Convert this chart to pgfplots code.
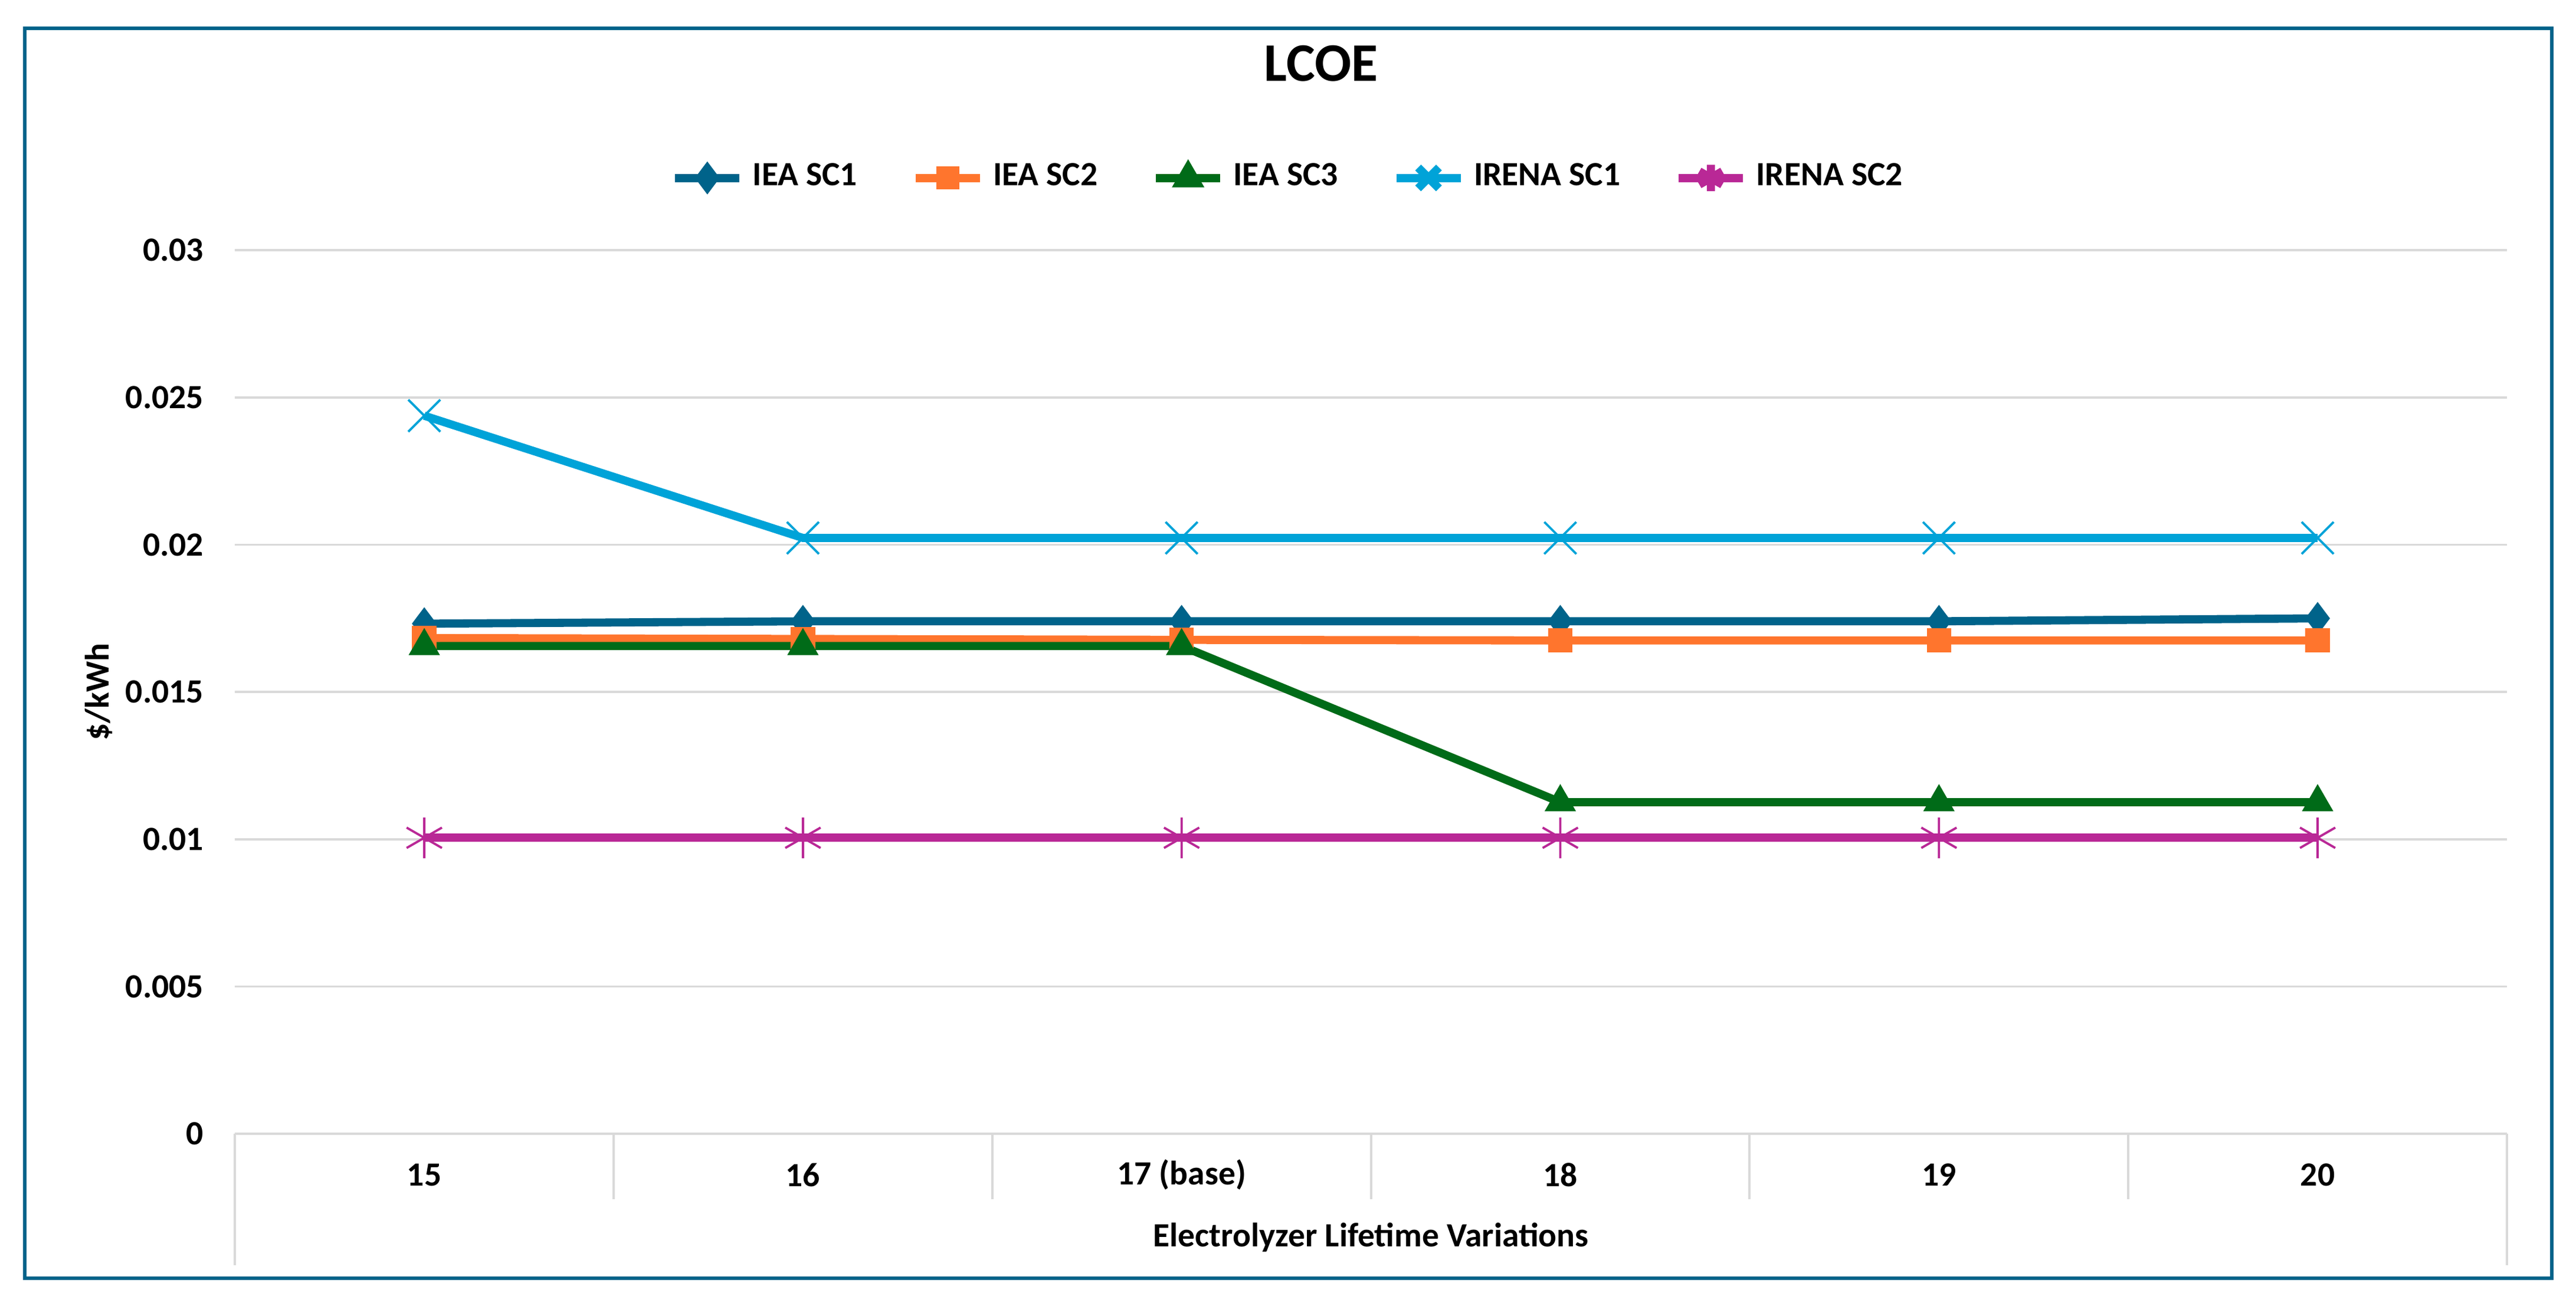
\documentclass[border=0pt]{standalone}
\usepackage{fontspec}
\setmainfont{Carlito}
\usepackage{pgfplots}
\pgfplotsset{compat=1.18}

\definecolor{ieaone}{HTML}{00638A}
\definecolor{ieatwo}{HTML}{FF752D}
\definecolor{ieathree}{HTML}{006B18}
\definecolor{irenaone}{HTML}{00A3D8}
\definecolor{irenatwo}{HTML}{B92896}
\definecolor{gridgray}{HTML}{D9D9D9}

\begin{document}
\begin{tikzpicture}
\path[use as bounding box] (0,0) rectangle (20cm,10.119cm);
\draw[color=ieaone, line width=0.8pt] (0.191,0.191) rectangle (19.81,9.898);
\begin{axis}[
    at={(1.824cm,1.314cm)}, anchor=south west,
    scale only axis,
    width=17.64cm, height=6.862cm,
    xmin=-0.5, xmax=5.5,
    ymin=0, ymax=0.03,
    xtick={0,1,2,3,4,5},
    xticklabels={15,16,17 (base),18,19,20},
    ytick={0,0.005,0.01,0.015,0.02,0.025,0.03},
    yticklabels={0,0.005,0.01,0.015,0.02,0.025,0.03},
    scaled y ticks=false,
    axis line style={draw=none},
    major tick length=0pt,
    ymajorgrids,
    major grid style={color=gridgray, line width=0.5pt},
    tick label style={font=\bfseries\fontsize{7.5}{9}\selectfont},
    xticklabel style={anchor=center, yshift=-0.319cm},
    yticklabel style={anchor=east, xshift=-0.12cm},
    xlabel={Electrolyzer Lifetime Variations},
    xlabel style={at={(axis description cs:0.5,0)}, anchor=center, yshift=-0.804cm,
        font=\bfseries\fontsize{7.5}{9}\selectfont},
    ylabel={\$/kWh},
    ylabel style={at={([xshift=-1.059cm]axis description cs:0,0.5)}, anchor=center,
        font=\bfseries\fontsize{7.5}{9}\selectfont},
    title={LCOE},
    title style={at={(axis description cs:0.478,1)}, anchor=center, yshift=1.237cm,
        font=\bfseries\fontsize{12}{14}\selectfont},
    legend columns=5,
    legend style={draw=none, fill=none,
        at={(axis description cs:0.465,1)}, anchor=center, yshift=0.561cm,
        font=\bfseries\fontsize{7.5}{9}\selectfont,
        /tikz/every even column/.append style={column sep=0.35cm}},
    legend image code/.code={
        \draw[mark repeat=2, mark phase=2, mark options={scale=0.65}]
            plot coordinates {(0cm,0cm) (0.25cm,0cm) (0.5cm,0cm)};
    },
    clip=false,
]

% IEA SC1
\addplot[color=ieaone, line width=1.8pt, mark=diamond*, mark size=3.3pt,
    mark options={line width=0.4pt}]
    coordinates {(0,0.01732) (1,0.0174) (2,0.0174) (3,0.0174) (4,0.0174) (5,0.0175)};
\addlegendentry{IEA SC1}

% IEA SC2
\addplot[color=ieatwo, line width=1.8pt, mark=square*, mark size=2.5pt,
    mark options={line width=0.4pt}]
    coordinates {(0,0.01683) (1,0.0168) (2,0.01677) (3,0.01675) (4,0.01675) (5,0.01675)};
\addlegendentry{IEA SC2}

% IEA SC3
\addplot[color=ieathree, line width=1.8pt, mark=triangle*, mark size=3.6pt,
    mark options={line width=0.4pt}]
    coordinates {(0,0.01656) (1,0.01656) (2,0.01656) (3,0.01126) (4,0.01126) (5,0.01126)};
\addlegendentry{IEA SC3}

% IRENA SC1
\addplot[color=irenaone, line width=1.8pt, mark=x, mark size=5pt,
    mark options={line width=0.5pt}]
    coordinates {(0,0.02438) (1,0.02023) (2,0.02023) (3,0.02023) (4,0.02023) (5,0.02023)};
\addlegendentry{IRENA SC1}

% IRENA SC2
\addplot[color=irenatwo, line width=1.8pt, mark=asterisk, mark size=4.5pt,
    mark options={line width=0.5pt}]
    coordinates {(0,0.01005) (1,0.01005) (2,0.01005) (3,0.01005) (4,0.01005) (5,0.01005)};
\addlegendentry{IRENA SC2}

% category separators of the x axis
\pgfplotsinvokeforeach{0.5,1.5,2.5,3.5,4.5}{
    \draw[gridgray, line width=0.5pt] (axis cs:#1,0) -- ([yshift=-0.51cm]axis cs:#1,0);
}
\draw[gridgray, line width=0.5pt] (axis cs:-0.5,0) -- ([yshift=-1.02cm]axis cs:-0.5,0);
\draw[gridgray, line width=0.5pt] (axis cs:5.5,0) -- ([yshift=-1.02cm]axis cs:5.5,0);
\end{axis}
\end{tikzpicture}
\end{document}
